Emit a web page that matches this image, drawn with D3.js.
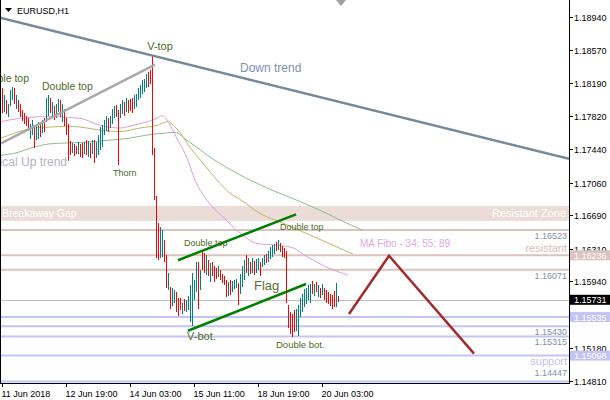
<!DOCTYPE html>
<html><head><meta charset="utf-8">
<script src="https://cdn.jsdelivr.net/npm/d3@7"></script>
<style>html,body{margin:0;padding:0;background:#fff;overflow:hidden}</style>
</head><body><svg id="c" width="610" height="400"></svg>
<script>
// ---- data (EURUSD H1 bars) ----
const barHigh = [
1.1813,1.1805,1.1800,1.1795,1.1811,1.1815,1.1813,1.1805,1.1800,1.1795,
1.1788,1.1785,1.1782,1.1779,1.1772,1.1777,1.1771,1.1772,1.1775,1.1772,
1.1777,1.1779,1.1802,1.1805,1.1802,1.1797,1.1793,1.1795,1.1801,1.1800,
1.1795,1.1790,1.1779,1.1772,1.1753,1.1751,1.1750,1.1748,1.1752,1.1750,
1.1751,1.1752,1.1754,1.1753,1.1751,1.1754,1.1754,1.1752,1.1760,1.1769,
1.1771,1.1777,1.1782,1.1779,1.1782,1.1790,1.1793,1.1794,1.1788,1.1795,
1.1800,1.1797,1.1802,1.1800,1.1801,1.1802,1.1805,1.1807,1.1813,1.1817,
1.1822,1.1824,1.1829,1.1831,1.1834,1.1851,1.1745,1.1691,1.1660,1.1656,
1.1652,1.1641,1.1624,1.1604,1.1588,1.1586,1.1584,1.1582,1.1575,1.1575,
1.1570,1.1574,1.1573,1.1577,1.1590,1.1604,1.1595,1.1616,1.1616,1.1607,
1.1627,1.1626,1.1624,1.1618,1.1615,1.1616,1.1611,1.1609,1.1611,1.1607,
1.1602,1.1600,1.1595,1.1593,1.1595,1.1594,1.1596,1.1597,1.1592,1.1602,
1.1611,1.1618,1.1624,1.1620,1.1616,1.1620,1.1617,1.1619,1.1620,1.1616,
1.1621,1.1624,1.1625,1.1628,1.1633,1.1635,1.1636,1.1639,1.1641,1.1638,
1.1634,1.1632,1.1629,1.1567,1.1559,1.1557,1.1561,1.1563,1.1567,1.1575,
1.1580,1.1585,1.1587,1.1590,1.1591,1.1594,1.1591,1.1593,1.1590,1.1587,
1.1591,1.1586,1.1584,1.1582,1.1580,1.1578,1.1583,1.1592,1.1577];
const barLow = [
1.1785,1.1786,1.1784,1.1780,1.1793,1.1800,1.1795,1.1790,1.1786,1.1781,
1.1776,1.1772,1.1770,1.1765,1.1756,1.1760,1.1745,1.1754,1.1756,1.1758,
1.1762,1.1764,1.1775,1.1782,1.1785,1.1780,1.1777,1.1779,1.1786,1.1781,
1.1775,1.1770,1.1760,1.1731,1.1737,1.1740,1.1736,1.1738,1.1739,1.1735,
1.1734,1.1739,1.1737,1.1735,1.1734,1.1738,1.1728,1.1734,1.1737,1.1743,
1.1747,1.1760,1.1765,1.1764,1.1768,1.1772,1.1779,1.1781,1.1726,1.1779,
1.1784,1.1782,1.1786,1.1785,1.1787,1.1785,1.1789,1.1792,1.1800,1.1802,
1.1806,1.1809,1.1813,1.1815,1.1818,1.1737,1.1686,1.1620,1.1618,1.1620,
1.1622,1.1616,1.1586,1.1584,1.1563,1.1566,1.1570,1.1559,1.1555,1.1561,
1.1557,1.1560,1.1559,1.1561,1.1548,1.1543,1.1573,1.1582,1.1563,1.1584,
1.1607,1.1604,1.1601,1.1600,1.1593,1.1600,1.1593,1.1597,1.1599,1.1595,
1.1592,1.1590,1.1576,1.1577,1.1578,1.1582,1.1585,1.1586,1.1567,1.1580,
1.1588,1.1596,1.1603,1.1600,1.1602,1.1604,1.1601,1.1603,1.1607,1.1600,
1.1610,1.1613,1.1615,1.1616,1.1619,1.1622,1.1625,1.1628,1.1630,1.1627,
1.1622,1.1620,1.1570,1.1541,1.1534,1.1531,1.1537,1.1538,1.1532,1.1554,
1.1559,1.1565,1.1568,1.1573,1.1570,1.1580,1.1577,1.1582,1.1576,1.1575,
1.1579,1.1573,1.1570,1.1568,1.1566,1.1563,1.1565,1.1565,1.1571];
// R = bearish bar, T = bullish bar
const barDir = "RTRTTTRTRR" + "RRRRTTRTTR" + "TRTTRTRTTR" + "TRRRRTRRTR" +
               "RTRTRTRTTT" + "TTTRTTTRRT" + "TRTRRRTTTT" + "TTTRRRRRRT" +
               "TRRTRTTRRR" + "TRTTTTTTRT" + "RRTRTRRRTR" + "RRRTRTTTRT" +
               "TTRTRTRTTR" + "TTRTTTTRTR" + "RRRRRRRTTT" + "TTTTTRTRTR" +
               "TRRRRRRTR";

const yTicks = [1.18940,1.18570,1.18190,1.17820,1.17440,1.17060,1.16690,1.16310,1.15940,1.15560,1.15180,1.14810];
const xTickIdx = [0,32,64,96,128,160];
const xTickLabels = ["11 Jun 2018","12 Jun 19:00","14 Jun 03:00","15 Jun 11:00","18 Jun 19:00","20 Jun 03:00"];

// moving averages (bar index, price)
const ma34 = [[-1,1.1775],[9,1.1779],[24,1.1781],[32.5,1.1780],[39,1.1779],[49,1.1771],[59,1.1768],[65.5,1.1771],[72.5,1.1775],[77.5,1.1779],[80,1.1782],[82.5,1.1777],[87.5,1.1756],[92.5,1.1734],[96.5,1.1709],[102.5,1.1686],[110.5,1.1667],[119,1.1649],[127.5,1.1637],[137.5,1.1635],[145.5,1.1632],[152.5,1.1622],[161.5,1.1611],[173,1.1601]];
const ma55 = [[-1,1.1756],[7.5,1.1763],[15.5,1.1768],[24,1.1769],[32.5,1.1770],[42.5,1.1768],[50.5,1.1765],[59,1.1764],[69,1.1768],[77.5,1.1771],[82.5,1.1775],[87.5,1.1767],[94,1.1746],[100.5,1.1728],[107.5,1.1709],[114,1.1694],[119,1.1687],[129,1.1671],[140.5,1.1660],[155.5,1.1645],[165.5,1.1635],[175.5,1.1625]];
const ma89 = [[-1,1.1737],[7.5,1.1740],[15.5,1.1746],[24,1.1750],[32.5,1.1751],[42.5,1.1752],[52.5,1.1754],[62.5,1.1756],[72.5,1.1760],[80.5,1.1762],[86.5,1.1763],[92.5,1.1754],[97.5,1.1746],[104,1.1735],[112.5,1.1723],[124,1.1709],[135.5,1.1697],[147.5,1.1686],[162.5,1.1671],[171.5,1.1661],[180.5,1.1652]];

const resistZone = [1.16626, 1.16796];
const resistLevels = [1.16523, 1.16236, 1.16071];
const supportLevels = [1.15535, 1.15430, 1.15315, 1.15098, 1.14447];
const lastPrice = 1.15731;

const downTrend = [[-1,1.1893],[283.5,1.1733]];
const upTrend = [[-1,1.1750],[76.5,1.1840]];
const flagTop = [[88,1.1618],[147,1.1670]];
const flagBottom = [[93,1.1538],[152,1.1591]];
const projection = [[173.5,1.1557],[193.5,1.1623],[236,1.1512]];

// ---- drawing ----
const svg = d3.select("#c");
const PR = 569, PB = 383;
const x = d3.scaleLinear().domain([-1, 283.5]).range([0, PR]);
const y = d3.scaleLinear().domain([1.14787, 1.19132]).range([PB, 0]);
const AX = "Liberation Sans, Arial, sans-serif";

svg.append("rect").attr("width",610).attr("height",400).attr("fill","#fff");
svg.append("defs").append("clipPath").attr("id","pc")
  .append("rect").attr("x",0).attr("y",0).attr("width",PR).attr("height",PB);
const g = svg.append("g").attr("clip-path","url(#pc)");

// resistant zone band
g.append("rect").attr("x",0).attr("width",PR)
  .attr("y", y(resistZone[1])).attr("height", y(resistZone[0]) - y(resistZone[1]))
  .attr("fill","#ebdcd8");
g.append("text").attr("x",2).attr("y",(y(resistZone[0])+y(resistZone[1]))/2+4)
  .attr("font-family",AX).attr("font-size",10.5).attr("fill","#fff").text("Breakaway Gap");
g.append("text").attr("x",566).attr("y",(y(resistZone[0])+y(resistZone[1]))/2+4)
  .attr("text-anchor","end").attr("font-family",AX).attr("font-size",11).attr("fill","#fff").text("Resistant Zone");

const RC = "#dcc3bd", SC = "#c3c3f5";
const clampY = v => Math.min(y(v), PB - 1.5);
// resistance levels
g.selectAll(".rl").data(resistLevels).join("line")
  .attr("x1",0).attr("x2",PR).attr("y1",d=>y(d)).attr("y2",d=>y(d))
  .attr("stroke",RC).attr("stroke-width",2);
// support levels
g.selectAll(".sl").data(supportLevels).join("line")
  .attr("x1",0).attr("x2",PR).attr("y1",d=>clampY(d)).attr("y2",d=>clampY(d))
  .attr("stroke",SC).attr("stroke-width",2);
// last price line
g.append("line").attr("x1",0).attr("x2",PR).attr("y1",Math.round(y(lastPrice))+0.5).attr("y2",Math.round(y(lastPrice))+0.5)
  .attr("stroke","#c0c0c0").attr("stroke-width",1);

// level labels
const LC = "#8591a6";
[resistLevels[0], resistLevels[2], supportLevels[1], supportLevels[2]].forEach(v => {
  g.append("text").attr("x",567).attr("y",y(v)+9).attr("text-anchor","end")
    .attr("font-family",AX).attr("font-size",9).attr("fill",LC).text(v.toFixed(5));
});
g.append("text").attr("x",567).attr("y",PB-7).attr("text-anchor","end")
  .attr("font-family",AX).attr("font-size",9).attr("fill",LC).text(supportLevels[4].toFixed(5));
g.append("text").attr("x",567).attr("y",y(resistLevels[1])-3).attr("text-anchor","end")
  .attr("font-family",AX).attr("font-size",11).attr("fill","#dcbcb4").text("resistant");
g.append("text").attr("x",567).attr("y",y(supportLevels[3])+9).attr("text-anchor","end")
  .attr("font-family",AX).attr("font-size",11).attr("fill","#c0c0f2").text("support");

// moving averages
const line = d3.line().x(d=>x(d[0])).y(d=>y(d[1])).curve(d3.curveMonotoneX);
[[ma89,"#8fbc8f"],[ma55,"#bdb76b"],[ma34,"#dda0dd"]].forEach(([d,c]) => {
  g.append("path").attr("d",line(d)).attr("fill","none").attr("stroke",c).attr("stroke-width",1);
});
g.append("text").attr("x",x(179)).attr("y",y(1.1633)).attr("font-family",AX).attr("font-size",10)
  .attr("fill","#e0a8e0").text("MA Fibo - 34; 55; 89");

// bars
g.append("g").selectAll("line").data(barHigh).join("line")
  .attr("x1",(d,i)=>Math.round(x(i))+0.5).attr("x2",(d,i)=>Math.round(x(i))+0.5)
  .attr("y1",d=>y(d)).attr("y2",(d,i)=>y(barLow[i]))
  .attr("stroke",(d,i)=>barDir[i]==="R" ? "#ff0000" : "#008080")
  .attr("stroke-width",1).attr("shape-rendering","crispEdges");

// trend lines
const sline = d3.line().x(d=>x(d[0])).y(d=>y(d[1]));
g.append("path").attr("d",sline(upTrend)).attr("stroke","#a9a9a9").attr("stroke-width",2.5).attr("fill","none");
g.append("path").attr("d",sline(downTrend)).attr("stroke","#778899").attr("stroke-width",2.5).attr("fill","none");
g.append("path").attr("d",sline(flagTop)).attr("stroke","#008000").attr("stroke-width",2.5).attr("fill","none");
g.append("path").attr("d",sline(flagBottom)).attr("stroke","#008000").attr("stroke-width",2.5).attr("fill","none");
g.append("path").attr("d",sline(projection)).attr("stroke","#a52a2a").attr("stroke-width",2.5).attr("fill","none");

// annotations
const AC = "#4d6b1f";
const notes = [
  ["Double top", 13.5, 1.1820, 10.5, "end", AC],
  ["Double top", 20, 1.1811, 10.5, "start", AC],
  ["V-top", 79, 1.1856, 11, "middle", AC],
  ["Thorn", 55.5, 1.1714, 9, "start", AC],
  ["Double top", 91, 1.1634, 9, "start", AC],
  ["Double top", 139, 1.1652, 9, "start", AC],
  ["V-bot.", 92.5, 1.1527, 11, "start", AC],
  ["Double bot.", 137, 1.1518, 9.5, "start", AC],
  ["Flag", 126, 1.1584, 13, "start", "#5a6e2e"],
  ["Down trend", 119, 1.1831, 12, "start", "#8090b0"],
  ["Critical Up trend", 32.5, 1.1725, 12, "end", "#b4b4bc"]
];
notes.forEach(([t,i,p,fs,an,c]) => {
  g.append("text").attr("x",x(i)).attr("y",y(p)).attr("text-anchor",an)
    .attr("font-family",AX).attr("font-size",fs).attr("fill",c).text(t);
});

// frame & axes
svg.append("line").attr("x1",0.5).attr("x2",0.5).attr("y1",0).attr("y2",PB).attr("stroke","#000");
svg.append("line").attr("x1",PR+0.5).attr("x2",PR+0.5).attr("y1",0).attr("y2",PB+0.5).attr("stroke","#000");
svg.append("line").attr("x1",0).attr("x2",PR+1).attr("y1",PB+0.5).attr("y2",PB+0.5).attr("stroke","#000");

const yAxis = svg.append("g");
yTicks.forEach(t => {
  const yy = Math.round(y(t))+0.5;
  yAxis.append("line").attr("x1",PR).attr("x2",PR+4).attr("y1",yy).attr("y2",yy).attr("stroke","#000");
  yAxis.append("text").attr("x",PR+5).attr("y",yy+3.5).attr("font-family",AX).attr("font-size",9).attr("fill","#000").text(t.toFixed(5));
});
const xAxis = svg.append("g");
xTickIdx.forEach((k,n) => {
  const xx = Math.round(x(k))+0.5;
  xAxis.append("line").attr("x1",xx).attr("x2",xx).attr("y1",PB).attr("y2",PB+4).attr("stroke","#000");
  xAxis.append("text").attr("x",xx-1).attr("y",PB+14).attr("font-family",AX).attr("font-size",9).attr("fill","#000").text(xTickLabels[n]);
});

// price boxes on axis
[[resistLevels[1],RC,"#fff"],[lastPrice,"#000","#fff"],[supportLevels[0],SC,"#fff"],[supportLevels[3],SC,"#fff"]].forEach(([v,bg,fg]) => {
  const yy = y(v);
  svg.append("rect").attr("x",PR+1).attr("y",yy-5).attr("width",610-PR-1).attr("height",10).attr("fill",bg);
  svg.append("text").attr("x",PR+5).attr("y",yy+3.5).attr("font-family",AX).attr("font-size",9).attr("fill",fg).text(v.toFixed(5));
});

// header
svg.append("path").attr("d","M5,8 L12,8 L8.5,12 Z").attr("fill","#000");
svg.append("text").attr("x",17).attr("y",14).attr("font-family",AX).attr("font-size",9).attr("fill","#000").text("EURUSD,H1");
// chart shift marker
svg.append("path").attr("d","M336,0 L346,0 L341,6 Z").attr("fill","#a0a0a0");
</script>
</body></html>
